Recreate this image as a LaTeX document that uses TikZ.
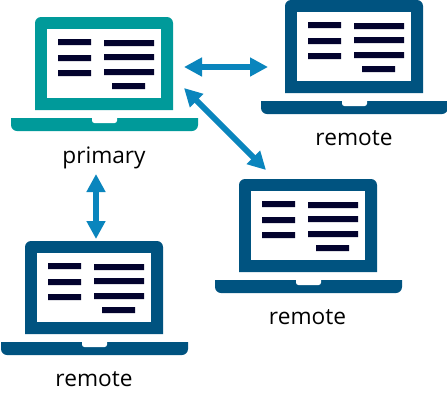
\documentclass[tikz,border=0pt]{standalone}
\usepackage{fontspec}
\setmainfont{Open Sans}
\usetikzlibrary{arrows.meta}
\definecolor{teal1}{HTML}{009A9A}
\definecolor{navy1}{HTML}{005380}
\definecolor{bar1}{HTML}{03032E}
\definecolor{arrow1}{HTML}{0A85BD}
\tikzset{
  x=0.75pt,y=-0.75pt,
  txtbar/.style={fill=bar1,draw=none},
  lbl/.style={anchor=base,inner sep=0pt,font=\fontsize{17pt}{20pt}\selectfont,text=black},
  link/.style={draw=arrow1,line width=4.4pt,{Triangle[length=13.5pt,width=13.5pt,fill=arrow1]}-{Triangle[length=13.5pt,width=13.5pt,fill=arrow1]}},
}
% #1 name, #2 x of lid, #3 y of lid, #4 colour
\newcommand{\laptopicon}[4]{%
  \begin{scope}[shift={(#2,#3)}]
    \fill[#4] (0,93) -- (0,6) .. controls (0,2.7) and (2.7,0) .. (6,0) -- (132,0) .. controls (135.3,0) and (138,2.7) .. (138,6) -- (138,93) -- cycle;
    \fill[white] (12,12) rectangle (126,81);
    \fill[bar1] (23,22) rectangle (56,28) (23,38) rectangle (56,44) (23,53) rectangle (56,59);
    \fill[bar1] (69,23) rectangle (119,29) (69,37) rectangle (119,43) (69,52) rectangle (119,58) (77,66) rectangle (110,72);
    \fill[#4] (-24,101) -- (163,101) -- (163,108) .. controls (163,111.3) and (160.3,114) .. (157,114) -- (-18,114) .. controls (-21.3,114) and (-24,111.3) .. (-24,108) -- cycle;
    \fill[white] (57,100.5) -- (82,100.5) -- (82,103.5) .. controls (82,105) and (81,106) .. (79.5,106) -- (59.5,106) .. controls (58,106) and (57,105) .. (57,103.5) -- cycle;
    \node[inner sep=0pt,minimum size=0pt] (#1) at (69,46) {};
  \end{scope}%
}
\begin{document}
\begin{tikzpicture}
\useasboundingbox[fill=white] (0,0) rectangle (447,408);
\laptopicon{lapP}{35}{17}{teal1}
\laptopicon{lapT}{285}{0}{navy1}
\laptopicon{lapM}{239}{179}{navy1}
\laptopicon{lapB}{25}{241}{navy1}
\node[lbl] (labP) at (104,163) {primary};
\node[lbl] (labT) at (354,145) {remote};
\node[lbl] (labM) at (307.5,324) {remote};
\node[lbl] (labB) at (94,386) {remote};
\coordinate (e1a) at (184,67);
\coordinate (e1b) at (268,67);
\coordinate (e2a) at (184,88);
\coordinate (e2b) at (266,170);
\coordinate (e3a) at (96,174);
\coordinate (e3b) at (96,239);
\draw[link] (e1a) -- (e1b);
\draw[link] (e2a) -- (e2b);
\draw[link] (e3a) -- (e3b);
\end{tikzpicture}
\end{document}
